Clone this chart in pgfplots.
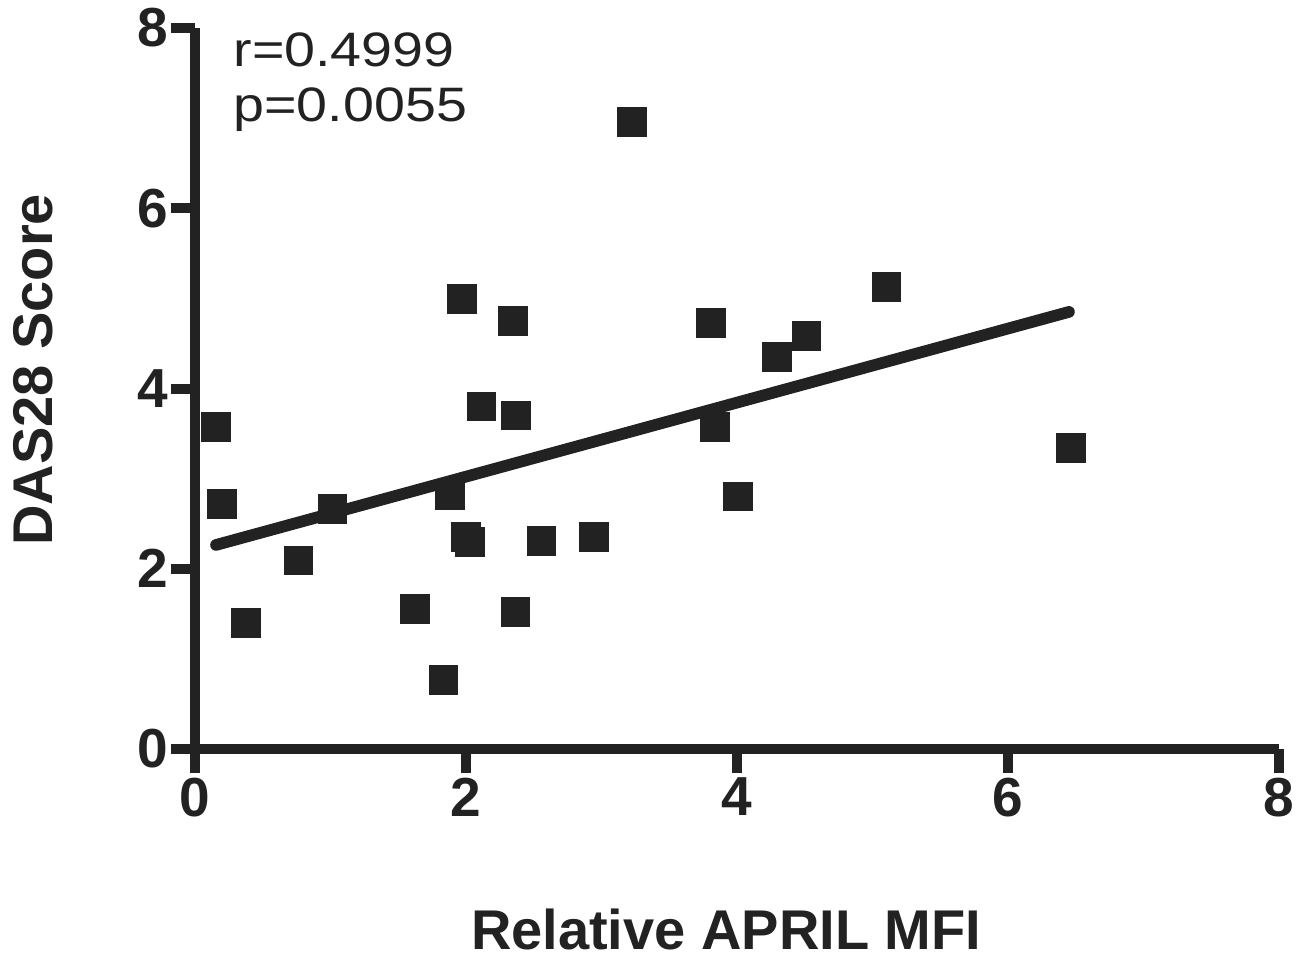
\documentclass[border=0pt]{standalone}
\usepackage{pgfplots}
\pgfplotsset{compat=1.18}
\usepackage{fontspec}
\setmainfont{Liberation Sans}
\definecolor{ink}{HTML}{222222}
\pgfplotstableread{
x y
0.157 3.57
0.200 2.72
0.378 1.40
0.765 2.09
1.016 2.66
1.622 1.556
1.834 0.768
1.882 2.82
1.970 4.99
2.000 2.35
2.030 2.30
2.114 3.80
2.347 4.75
2.370 3.70
2.365 1.517
2.557 2.31
2.945 2.35
3.225 6.96
3.810 4.73
3.840 3.57
4.007 2.80
4.297 4.35
4.513 4.58
5.103 5.13
6.465 3.34
}\pts
\begin{document}
\begin{tikzpicture}
\useasboundingbox (-58.5pt,-62.1pt) rectangle (332.4pt,224.7pt);
\begin{axis}[
  at={(0,0)}, anchor=south west,
  scale only axis, width=325.2pt, height=216.3pt,
  xmin=0, xmax=8, ymin=0, ymax=8,
  axis x line*=bottom, axis y line*=left,
  xtick={0,2,4,6,8}, ytick={0,2,4,6,8},
  tick align=outside, major tick length=7.2pt,
  axis line style={line width=3pt, ink},
  every tick/.style={line width=3pt, ink},
  /pgf/number format/assume math mode=true,
  ticklabel style={font=\fontsize{16.5}{16.5}\selectfont\bfseries, text=ink},
  xticklabel style={inner sep=1pt, yshift=-0.3pt},
  yticklabel style={inner xsep=0.6pt},
  xlabel={Relative APRIL MFI},
  ylabel={DAS28 Score},
  label style={font=\fontsize{16.8}{16.8}\selectfont\bfseries, text=ink},
  xlabel style={at={(axis description cs:0.49,-0.2774)}, anchor=base, inner sep=0pt},
  ylabel style={at={(axis description cs:-0.149,0.526)}, anchor=center, rotate=0},
  clip=false,
]
\addplot[ink, line width=3.5pt, line cap=round] coordinates {(0.155,2.264) (6.45,4.85)};
\addplot[only marks, mark=square*, mark size=4.3pt, mark options={fill=ink, draw=ink, line width=0pt}] table[x=x,y=y] {\pts};
\node[anchor=base west, inner sep=0pt, text=ink] at (axis description cs:0.035,0.946) {\fontsize{14.5}{14.5}\selectfont\scalebox{1.15}[1]{r=0.4999}};
\node[anchor=base west, inner sep=0pt, text=ink] at (axis description cs:0.035,0.870) {\fontsize{14.5}{14.5}\selectfont\scalebox{1.15}[1]{p=0.0055}};
\end{axis}
\end{tikzpicture}
\end{document}
